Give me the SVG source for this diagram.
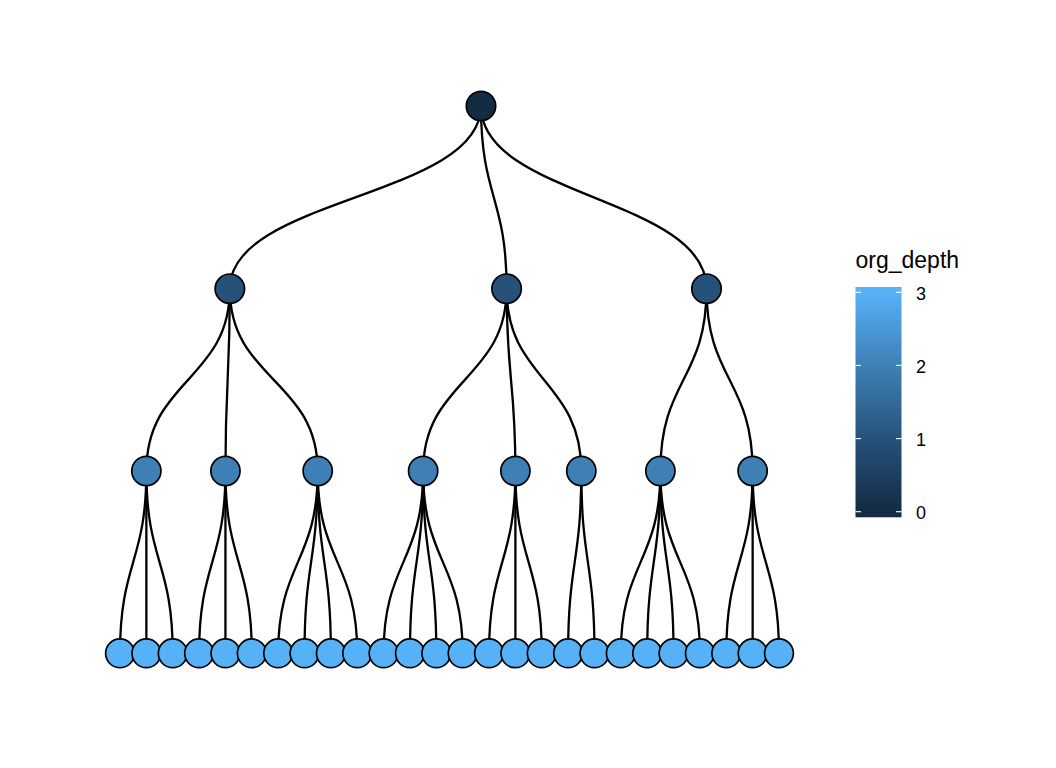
<svg xmlns="http://www.w3.org/2000/svg" width="1056" height="768" viewBox="0 0 1056 768">
<defs>
<style>
.e{fill:none;stroke:#000;stroke-width:2.3;}
.n{stroke:#000;stroke-width:1.7;}
.d0{fill:#132B43;}
.d1{fill:#26527A;}
.d2{fill:#3E80B6;}
.d3{fill:#56B1F7;}
.tk{stroke:#fff;stroke-width:1.1;}
.lab{font-family:"Liberation Sans",Arial,sans-serif;font-size:18px;fill:#000;}
.ttl{font-family:"Liberation Sans",Arial,sans-serif;font-size:23px;fill:#000;}
</style>
<linearGradient id="bar" gradientUnits="userSpaceOnUse" x1="0" y1="292.3" x2="0" y2="511.7">
<stop offset="0" stop-color="#56B1F7"/>
<stop offset="0.333" stop-color="#3E80B6"/>
<stop offset="0.5" stop-color="#336A98"/>
<stop offset="0.667" stop-color="#26527A"/>
<stop offset="1" stop-color="#132B43"/>
</linearGradient>
</defs>
<rect width="1056" height="768" fill="#fff"/>
<g id="connectors">
<path class="e" d="M480.98,106 C480.98,197.35 229.83,197.35 229.83,288.7"/>
<path class="e" d="M480.98,106 C480.98,197.35 506.61,197.35 506.61,288.7"/>
<path class="e" d="M480.98,106 C480.98,197.35 706.51,197.35 706.51,288.7"/>
<path class="e" d="M229.83,288.7 C229.83,379.85 146.36,379.85 146.36,471"/>
<path class="e" d="M229.83,288.7 C229.83,379.85 225.44,379.85 225.44,471"/>
<path class="e" d="M229.83,288.7 C229.83,379.85 317.70,379.85 317.70,471"/>
<path class="e" d="M506.61,288.7 C506.61,379.85 423.14,379.85 423.14,471"/>
<path class="e" d="M506.61,288.7 C506.61,379.85 515.40,379.85 515.40,471"/>
<path class="e" d="M506.61,288.7 C506.61,379.85 581.30,379.85 581.30,471"/>
<path class="e" d="M706.51,288.7 C706.51,379.85 660.38,379.85 660.38,471"/>
<path class="e" d="M706.51,288.7 C706.51,379.85 752.64,379.85 752.64,471"/>
<path class="e" d="M146.36,471 C146.36,562.15 120.00,562.15 120.00,653.3"/>
<path class="e" d="M146.36,471 C146.36,562.15 146.36,562.15 146.36,653.3"/>
<path class="e" d="M146.36,471 C146.36,562.15 172.72,562.15 172.72,653.3"/>
<path class="e" d="M225.44,471 C225.44,562.15 199.08,562.15 199.08,653.3"/>
<path class="e" d="M225.44,471 C225.44,562.15 225.44,562.15 225.44,653.3"/>
<path class="e" d="M225.44,471 C225.44,562.15 251.80,562.15 251.80,653.3"/>
<path class="e" d="M317.70,471 C317.70,562.15 278.16,562.15 278.16,653.3"/>
<path class="e" d="M317.70,471 C317.70,562.15 304.52,562.15 304.52,653.3"/>
<path class="e" d="M317.70,471 C317.70,562.15 330.88,562.15 330.88,653.3"/>
<path class="e" d="M317.70,471 C317.70,562.15 357.24,562.15 357.24,653.3"/>
<path class="e" d="M423.14,471 C423.14,562.15 383.60,562.15 383.60,653.3"/>
<path class="e" d="M423.14,471 C423.14,562.15 409.96,562.15 409.96,653.3"/>
<path class="e" d="M423.14,471 C423.14,562.15 436.32,562.15 436.32,653.3"/>
<path class="e" d="M423.14,471 C423.14,562.15 462.68,562.15 462.68,653.3"/>
<path class="e" d="M515.40,471 C515.40,562.15 489.04,562.15 489.04,653.3"/>
<path class="e" d="M515.40,471 C515.40,562.15 515.40,562.15 515.40,653.3"/>
<path class="e" d="M515.40,471 C515.40,562.15 541.76,562.15 541.76,653.3"/>
<path class="e" d="M581.30,471 C581.30,562.15 568.12,562.15 568.12,653.3"/>
<path class="e" d="M581.30,471 C581.30,562.15 594.48,562.15 594.48,653.3"/>
<path class="e" d="M660.38,471 C660.38,562.15 620.84,562.15 620.84,653.3"/>
<path class="e" d="M660.38,471 C660.38,562.15 647.20,562.15 647.20,653.3"/>
<path class="e" d="M660.38,471 C660.38,562.15 673.56,562.15 673.56,653.3"/>
<path class="e" d="M660.38,471 C660.38,562.15 699.92,562.15 699.92,653.3"/>
<path class="e" d="M752.64,471 C752.64,562.15 726.28,562.15 726.28,653.3"/>
<path class="e" d="M752.64,471 C752.64,562.15 752.64,562.15 752.64,653.3"/>
<path class="e" d="M752.64,471 C752.64,562.15 779.00,562.15 779.00,653.3"/>
</g>
<g id="node-root"><circle class="n d0" cx="480.98" cy="106" r="14.7"/></g>
<g id="node-1a"><circle class="n d1" cx="229.83" cy="288.7" r="14.7"/></g>
<g id="node-1b"><circle class="n d1" cx="506.61" cy="288.7" r="14.7"/></g>
<g id="node-1c"><circle class="n d1" cx="706.51" cy="288.7" r="14.7"/></g>
<g id="node-2a"><circle class="n d2" cx="146.36" cy="471" r="14.6"/></g>
<g id="node-2b"><circle class="n d2" cx="225.44" cy="471" r="14.6"/></g>
<g id="node-2c"><circle class="n d2" cx="317.70" cy="471" r="14.6"/></g>
<g id="node-2d"><circle class="n d2" cx="423.14" cy="471" r="14.6"/></g>
<g id="node-2e"><circle class="n d2" cx="515.40" cy="471" r="14.6"/></g>
<g id="node-2f"><circle class="n d2" cx="581.30" cy="471" r="14.6"/></g>
<g id="node-2g"><circle class="n d2" cx="660.38" cy="471" r="14.6"/></g>
<g id="node-2h"><circle class="n d2" cx="752.64" cy="471" r="14.6"/></g>
<g id="leaf-01"><circle class="n d3" cx="120.00" cy="653.3" r="14.4"/></g>
<g id="leaf-02"><circle class="n d3" cx="146.36" cy="653.3" r="14.4"/></g>
<g id="leaf-03"><circle class="n d3" cx="172.72" cy="653.3" r="14.4"/></g>
<g id="leaf-04"><circle class="n d3" cx="199.08" cy="653.3" r="14.4"/></g>
<g id="leaf-05"><circle class="n d3" cx="225.44" cy="653.3" r="14.4"/></g>
<g id="leaf-06"><circle class="n d3" cx="251.80" cy="653.3" r="14.4"/></g>
<g id="leaf-07"><circle class="n d3" cx="278.16" cy="653.3" r="14.4"/></g>
<g id="leaf-08"><circle class="n d3" cx="304.52" cy="653.3" r="14.4"/></g>
<g id="leaf-09"><circle class="n d3" cx="330.88" cy="653.3" r="14.4"/></g>
<g id="leaf-10"><circle class="n d3" cx="357.24" cy="653.3" r="14.4"/></g>
<g id="leaf-11"><circle class="n d3" cx="383.60" cy="653.3" r="14.4"/></g>
<g id="leaf-12"><circle class="n d3" cx="409.96" cy="653.3" r="14.4"/></g>
<g id="leaf-13"><circle class="n d3" cx="436.32" cy="653.3" r="14.4"/></g>
<g id="leaf-14"><circle class="n d3" cx="462.68" cy="653.3" r="14.4"/></g>
<g id="leaf-15"><circle class="n d3" cx="489.04" cy="653.3" r="14.4"/></g>
<g id="leaf-16"><circle class="n d3" cx="515.40" cy="653.3" r="14.4"/></g>
<g id="leaf-17"><circle class="n d3" cx="541.76" cy="653.3" r="14.4"/></g>
<g id="leaf-18"><circle class="n d3" cx="568.12" cy="653.3" r="14.4"/></g>
<g id="leaf-19"><circle class="n d3" cx="594.48" cy="653.3" r="14.4"/></g>
<g id="leaf-20"><circle class="n d3" cx="620.84" cy="653.3" r="14.4"/></g>
<g id="leaf-21"><circle class="n d3" cx="647.20" cy="653.3" r="14.4"/></g>
<g id="leaf-22"><circle class="n d3" cx="673.56" cy="653.3" r="14.4"/></g>
<g id="leaf-23"><circle class="n d3" cx="699.92" cy="653.3" r="14.4"/></g>
<g id="leaf-24"><circle class="n d3" cx="726.28" cy="653.3" r="14.4"/></g>
<g id="leaf-25"><circle class="n d3" cx="752.64" cy="653.3" r="14.4"/></g>
<g id="leaf-26"><circle class="n d3" cx="779.00" cy="653.3" r="14.4"/></g>
<g id="legend">
<text class="ttl" x="855.5" y="267.5">org_depth</text>
<rect x="855.5" y="287" width="46" height="230.3" fill="url(#bar)"/>
<line class="tk" x1="855.5" y1="292.3" x2="861" y2="292.3"/>
<line class="tk" x1="896" y1="292.3" x2="901.5" y2="292.3"/>
<line class="tk" x1="855.5" y1="365.4" x2="861" y2="365.4"/>
<line class="tk" x1="896" y1="365.4" x2="901.5" y2="365.4"/>
<line class="tk" x1="855.5" y1="438.6" x2="861" y2="438.6"/>
<line class="tk" x1="896" y1="438.6" x2="901.5" y2="438.6"/>
<line class="tk" x1="855.5" y1="511.7" x2="861" y2="511.7"/>
<line class="tk" x1="896" y1="511.7" x2="901.5" y2="511.7"/>
<text class="lab" x="916" y="299.5">3</text>
<text class="lab" x="916" y="372.6">2</text>
<text class="lab" x="916" y="445.8">1</text>
<text class="lab" x="916" y="518.9">0</text>
</g>
</svg>
